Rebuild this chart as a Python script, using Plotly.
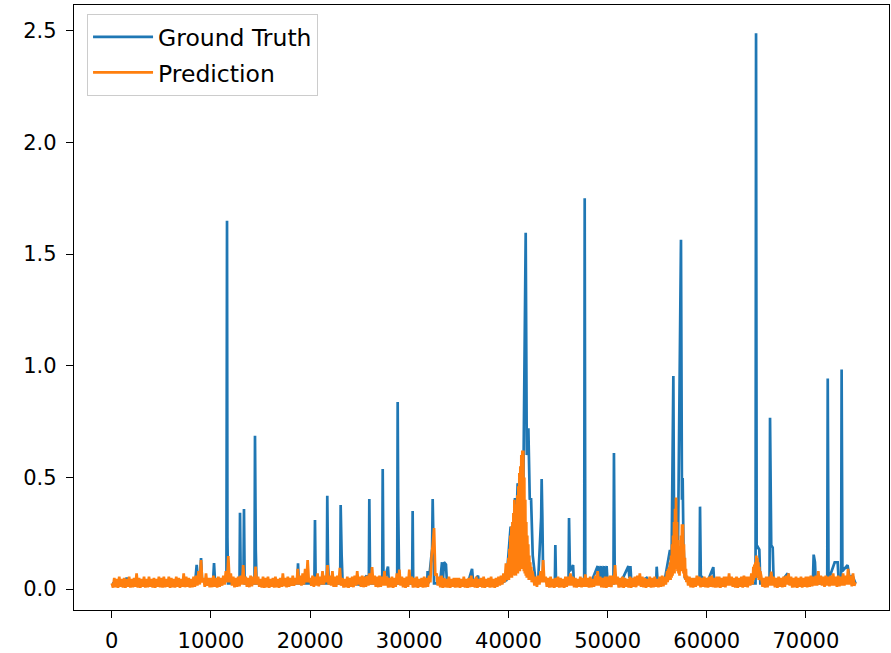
import plotly.graph_objects as go

# ---------------- Ground truth ----------------
gt_x = [0, 600, 1200, 1500, 1800, 2400, 3000, 3600, 4200, 4800, 5400, 6000, 6600, 7200, 7800,
        8400, 8560, 8700, 8900, 9000, 9100, 9600, 10200, 10310, 10420, 11000, 11560, 11620, 11660, 11720,
        12300, 12880, 12930, 13000, 13280, 13330, 13400, 14000, 14390, 14440, 14520, 14600,
        15300, 16000, 16700, 17400, 18100, 18700, 18780, 18860, 19500,
        20430, 20490, 20560, 21100, 21680, 21730, 21800, 21900, 22500, 23030, 23080, 23180, 23280,
        24000, 25000, 25700, 25920, 25970, 26050, 26700, 27270, 27320, 27400, 27850, 27950,
        28780, 28830, 28880, 28980, 29600,
        30290, 30340, 30400, 31000, 31800, 31850, 31950, 32300, 32360, 32420, 32500, 33100,
        33300, 33400, 33500, 33700, 33800, 34500, 35200, 35900, 36330, 36450, 36930, 37050,
        37800, 38500, 39200, 39800,
        40220, 40400, 40660, 40800, 40930, 41200, 41500, 41740, 41850, 42010, 42150, 42280,
        42450, 42700, 43000, 43300, 43350, 43420, 43500, 44000, 44680, 44730, 44800, 45500,
        46060, 46110, 46200, 46520, 46600, 47100, 47640, 47690, 47750, 48300,
        49000, 49100, 49300, 49400, 49600, 49700, 49900, 50000,
        50590, 50640, 50720, 51300, 52100, 52200, 52300, 52400, 53000, 53940, 54300,
        54900, 54950, 55050, 55700, 56290, 56450, 56630, 56700, 56900, 57100, 57400,
        57500, 57570, 57650, 57800, 58300, 59270, 59320, 59400,
        60000, 60660, 60750, 61500, 62300, 63200, 64000, 64920, 64970, 65030, 65300, 65400,
        66000, 66330, 66380, 66500, 66650, 66750, 67400, 68160, 68300, 69000, 69800,
        70700, 70780, 70910, 71000, 71600, 72150, 72200, 72280, 72900, 73050, 73200, 73300,
        73550, 73600, 73680, 74200, 74400, 74700, 75000]
gt_y = [0.025, 0.02, 0.025, 0.05, 0.025, 0.02, 0.025, 0.02, 0.025, 0.02, 0.025, 0.02, 0.025, 0.02, 0.025,
        0.025, 0.108, 0.04, 0.05, 0.139, 0.04, 0.025, 0.025, 0.116, 0.025, 0.025, 0.04, 1.65, 0.23, 0.025,
        0.025, 0.025, 0.342, 0.05, 0.06, 0.358, 0.025, 0.025, 0.025, 0.687, 0.175, 0.025,
        0.025, 0.02, 0.025, 0.02, 0.025, 0.025, 0.115, 0.025, 0.025,
        0.025, 0.309, 0.025, 0.025, 0.025, 0.418, 0.12, 0.025, 0.025, 0.025, 0.376, 0.15, 0.025,
        0.025, 0.02, 0.06, 0.025, 0.403, 0.025, 0.025, 0.025, 0.537, 0.025, 0.10, 0.025,
        0.025, 0.838, 0.37, 0.025, 0.025,
        0.025, 0.349, 0.025, 0.025, 0.025, 0.08, 0.025, 0.18, 0.403, 0.25, 0.025, 0.025,
        0.12, 0.04, 0.12, 0.11, 0.025, 0.025, 0.025, 0.025, 0.09, 0.025, 0.06, 0.025,
        0.025, 0.025, 0.025, 0.04,
        0.28, 0.15, 0.407, 0.30, 0.474, 0.35, 0.45, 1.596, 0.60, 0.72, 0.40, 0.407,
        0.15, 0.05, 0.04, 0.32, 0.493, 0.32, 0.05, 0.025, 0.025, 0.197, 0.025, 0.025,
        0.025, 0.318, 0.08, 0.107, 0.025, 0.025, 0.025, 1.75, 0.025, 0.025,
        0.103, 0.025, 0.103, 0.025, 0.103, 0.025, 0.103, 0.025,
        0.025, 0.609, 0.05, 0.025, 0.103, 0.05, 0.103, 0.025, 0.025, 0.05, 0.025,
        0.025, 0.10, 0.025, 0.025, 0.175, 0.12, 0.954, 0.30, 0.25, 0.20, 1.564,
        0.40, 0.497, 0.20, 0.05, 0.025, 0.025, 0.369, 0.06,
        0.025, 0.098, 0.025, 0.025, 0.025, 0.025, 0.025, 0.025, 2.49, 0.197, 0.176, 0.025,
        0.025, 0.025, 0.767, 0.197, 0.185, 0.025, 0.025, 0.07, 0.025, 0.025, 0.025,
        0.025, 0.154, 0.12, 0.025, 0.025, 0.025, 0.943, 0.04, 0.12, 0.12, 0.12, 0.04,
        0.04, 0.983, 0.08, 0.107, 0.05, 0.06, 0.025]

# ---------------- Prediction ----------------
# base samples every 125 index units, 0 .. 75000 (one row = 5000 units)
pred_base_step = 125
pred_base_y = [
    # 0 - 4875
    0.025, 0.006, 0.05, 0.008, 0.045, 0.005, 0.055, 0.01, 0.045, 0.006,
    0.05, 0.005, 0.045, 0.01, 0.055, 0.006, 0.045, 0.008, 0.05, 0.01,
    0.07, 0.006, 0.05, 0.005, 0.045, 0.01, 0.055, 0.006, 0.045, 0.008,
    0.055, 0.01, 0.045, 0.006, 0.05, 0.005, 0.045, 0.01, 0.055, 0.008,
    # 5000 - 9875
    0.05, 0.006, 0.055, 0.008, 0.045, 0.01, 0.055, 0.005, 0.05, 0.008,
    0.045, 0.006, 0.055, 0.01, 0.05, 0.005, 0.045, 0.01, 0.07, 0.008,
    0.055, 0.01, 0.05, 0.006, 0.045, 0.008, 0.055, 0.01, 0.06, 0.015,
    0.08, 0.02, 0.13, 0.03, 0.05, 0.01, 0.07, 0.015, 0.05, 0.008,
    # 10000 - 14875
    0.05, 0.008, 0.06, 0.01, 0.05, 0.006, 0.055, 0.01, 0.05, 0.015,
    0.06, 0.02, 0.08, 0.03, 0.148, 0.03, 0.07, 0.015, 0.055, 0.008,
    0.05, 0.01, 0.055, 0.012, 0.06, 0.02, 0.107, 0.02, 0.055, 0.01,
    0.05, 0.008, 0.06, 0.012, 0.055, 0.02, 0.10, 0.02, 0.055, 0.01,
    # 15000 - 19875
    0.045, 0.006, 0.055, 0.005, 0.05, 0.008, 0.055, 0.005, 0.045, 0.01,
    0.05, 0.006, 0.055, 0.008, 0.045, 0.005, 0.05, 0.01, 0.07, 0.012,
    0.05, 0.008, 0.055, 0.01, 0.05, 0.015, 0.06, 0.015, 0.05, 0.02,
    0.09, 0.02, 0.06, 0.015, 0.07, 0.02, 0.09, 0.03, 0.13, 0.03,
    # 20000 - 24875
    0.05, 0.015, 0.06, 0.01, 0.055, 0.015, 0.07, 0.012, 0.055, 0.02,
    0.08, 0.02, 0.06, 0.03, 0.107, 0.02, 0.06, 0.015, 0.08, 0.01,
    0.055, 0.01, 0.06, 0.02, 0.095, 0.015, 0.05, 0.006, 0.045, 0.008,
    0.055, 0.005, 0.05, 0.01, 0.055, 0.008, 0.06, 0.015, 0.08, 0.02,
    # 25000 - 29875
    0.055, 0.01, 0.06, 0.008, 0.055, 0.01, 0.06, 0.015, 0.07, 0.02,
    0.098, 0.02, 0.06, 0.01, 0.055, 0.008, 0.06, 0.01, 0.055, 0.015,
    0.08, 0.015, 0.055, 0.006, 0.05, 0.008, 0.055, 0.005, 0.05, 0.01,
    0.07, 0.02, 0.087, 0.015, 0.055, 0.008, 0.05, 0.005, 0.055, 0.01,
    # 30000 - 34875
    0.087, 0.02, 0.055, 0.006, 0.05, 0.008, 0.055, 0.005, 0.045, 0.01,
    0.05, 0.006, 0.055, 0.008, 0.05, 0.01, 0.06, 0.03, 0.15, 0.20,
    0.273, 0.06, 0.07, 0.015, 0.055, 0.008, 0.06, 0.005, 0.05, 0.008,
    0.045, 0.006, 0.055, 0.005, 0.045, 0.01, 0.05, 0.006, 0.05, 0.008,
    # 35000 - 39875
    0.05, 0.005, 0.045, 0.01, 0.055, 0.006, 0.045, 0.005, 0.05, 0.008,
    0.06, 0.01, 0.045, 0.006, 0.055, 0.005, 0.045, 0.01, 0.05, 0.006,
    0.055, 0.005, 0.045, 0.01, 0.05, 0.006, 0.055, 0.008, 0.045, 0.005,
    0.05, 0.01, 0.055, 0.015, 0.06, 0.02, 0.07, 0.03, 0.115, 0.04,
    # 40000 - 44875 (first half covered by the dense burst below)
    0.14, 0.05, 0.28, 0.05, 0.40, 0.06, 0.35, 0.07, 0.46, 0.08,
    0.55, 0.09, 0.62, 0.08, 0.40, 0.06, 0.24, 0.05, 0.15, 0.04,
    0.06, 0.015, 0.055, 0.01, 0.06, 0.02, 0.08, 0.03, 0.13, 0.03,
    0.055, 0.01, 0.05, 0.006, 0.055, 0.008, 0.045, 0.005, 0.05, 0.01,
    # 45000 - 49875
    0.055, 0.006, 0.05, 0.008, 0.045, 0.005, 0.055, 0.01, 0.055, 0.015,
    0.07, 0.015, 0.055, 0.008, 0.05, 0.006, 0.045, 0.01, 0.055, 0.008,
    0.05, 0.01, 0.066, 0.01, 0.05, 0.006, 0.055, 0.008, 0.045, 0.01,
    0.06, 0.015, 0.08, 0.015, 0.055, 0.008, 0.05, 0.006, 0.055, 0.005,
    # 50000 - 54875
    0.055, 0.01, 0.06, 0.008, 0.06, 0.02, 0.107, 0.02, 0.055, 0.006,
    0.05, 0.008, 0.055, 0.005, 0.05, 0.01, 0.045, 0.006, 0.055, 0.005,
    0.05, 0.01, 0.055, 0.008, 0.06, 0.015, 0.07, 0.01, 0.055, 0.008,
    0.05, 0.005, 0.045, 0.01, 0.055, 0.006, 0.05, 0.008, 0.055, 0.01,
    # 55000 - 59875 (56000-57875 covered by the dense burst below)
    0.045, 0.008, 0.055, 0.01, 0.06, 0.012, 0.055, 0.02, 0.08, 0.04,
    0.12, 0.05, 0.20, 0.06, 0.30, 0.08, 0.41, 0.09, 0.22, 0.07,
    0.29, 0.08, 0.14, 0.04, 0.06, 0.015, 0.055, 0.008, 0.05, 0.006,
    0.05, 0.01, 0.06, 0.015, 0.055, 0.008, 0.05, 0.01, 0.055, 0.008,
    # 60000 - 64875
    0.05, 0.006, 0.055, 0.01, 0.06, 0.008, 0.05, 0.006, 0.055, 0.008,
    0.055, 0.005, 0.05, 0.01, 0.055, 0.008, 0.055, 0.015, 0.07, 0.015,
    0.055, 0.01, 0.05, 0.006, 0.055, 0.005, 0.05, 0.01, 0.055, 0.006,
    0.06, 0.01, 0.055, 0.008, 0.055, 0.015, 0.07, 0.02, 0.10, 0.04,
    # 65000 - 69875
    0.15, 0.06, 0.12, 0.05, 0.055, 0.01, 0.05, 0.006, 0.055, 0.008,
    0.055, 0.015, 0.078, 0.015, 0.055, 0.008, 0.05, 0.005, 0.055, 0.01,
    0.05, 0.008, 0.055, 0.01, 0.06, 0.02, 0.07, 0.015, 0.055, 0.006,
    0.05, 0.008, 0.055, 0.005, 0.05, 0.01, 0.055, 0.006, 0.05, 0.01,
    # 70000 - 74875
    0.055, 0.008, 0.055, 0.01, 0.06, 0.012, 0.055, 0.015, 0.06, 0.015,
    0.08, 0.02, 0.06, 0.015, 0.055, 0.01, 0.06, 0.015, 0.055, 0.012,
    0.06, 0.015, 0.07, 0.015, 0.055, 0.01, 0.06, 0.012, 0.055, 0.015,
    0.07, 0.015, 0.06, 0.02, 0.09, 0.02, 0.06, 0.012, 0.07, 0.015,
    # 75000
    0.03]

# dense bursts (every 50 index units)
hump_step = 50
hump1_start = 40000
hump1_y = [0.14, 0.04, 0.18, 0.05, 0.24, 0.06, 0.28, 0.05, 0.30, 0.07, 0.34, 0.06, 0.40, 0.08, 0.38, 0.06,
           0.35, 0.08, 0.42, 0.07, 0.46, 0.09, 0.52, 0.08, 0.55, 0.10, 0.60, 0.09, 0.62, 0.11, 0.62, 0.08,
           0.50, 0.07, 0.40, 0.06, 0.30, 0.05, 0.24, 0.06, 0.20, 0.04, 0.15, 0.05, 0.12, 0.04, 0.10, 0.03, 0.08]
hump2_start = 56000
hump2_y = [0.08, 0.03, 0.09, 0.04, 0.10, 0.05, 0.12, 0.04, 0.15, 0.05, 0.20, 0.06, 0.24, 0.08, 0.30, 0.07,
           0.36, 0.10, 0.41, 0.09, 0.30, 0.08, 0.22, 0.07, 0.18, 0.06, 0.17, 0.08, 0.24, 0.09, 0.29, 0.08,
           0.29, 0.07, 0.20, 0.05, 0.14, 0.04, 0.09, 0.03]
hump3_start = 64700
hump3_y = [0.10, 0.04, 0.11, 0.05, 0.12, 0.06, 0.15, 0.06, 0.14, 0.05, 0.12, 0.04, 0.10, 0.04, 0.08]

x_ticks = [0, 10000, 20000, 30000, 40000, 50000, 60000, 70000]
y_ticks = [0.0, 0.5, 1.0, 1.5, 2.0, 2.5]

# ---------------- build prediction series ----------------
humps = [(hump1_start, hump1_y), (hump2_start, hump2_y), (hump3_start, hump3_y)]
spans = [(s, s + hump_step * (len(v) - 1)) for s, v in humps]
pts = []
for i, v in enumerate(pred_base_y):
    x = i * pred_base_step
    if any(a <= x <= b for a, b in spans):
        continue
    pts.append((x, v))
for s, vals in humps:
    for j, v in enumerate(vals):
        pts.append((s + j * hump_step, v))
pts.sort()
pred_x = [p[0] for p in pts]
pred_y = [p[1] for p in pts]

FONT = "DejaVu Sans"
fig = go.Figure()
fig.add_trace(go.Scatter(x=gt_x, y=gt_y, mode="lines", name="Ground Truth",
                         legendgroup="a",
                         line=dict(color="#1f77b4", width=2.7, simplify=False)))
fig.add_trace(go.Scatter(x=pred_x, y=pred_y, mode="lines", name="Prediction",
                         legendgroup="b",
                         line=dict(color="#ff7f0e", width=2.7, simplify=False)))

axis_common = dict(showgrid=False, zeroline=False, showline=True, mirror=True,
                   linecolor="#000000", linewidth=1.4, ticks="outside", ticklen=7,
                   tickwidth=1.3, tickcolor="#000000", automargin=False,
                   ticklabelstandoff=5,
                   tickfont=dict(family=FONT, size=21, color="#000000"))
fig.update_xaxes(range=[-3812, 78378], tickvals=x_ticks,
                 ticktext=[str(t) for t in x_ticks], **axis_common)
fig.update_yaxes(range=[-0.094, 2.616], tickvals=y_ticks,
                 ticktext=[f"{t:.1f}" for t in y_ticks], **axis_common)

fig.update_layout(
    width=891, height=653, autosize=False,
    margin=dict(l=74, r=2, t=5, b=43),
    plot_bgcolor="white", paper_bgcolor="white",
    font=dict(family=FONT, size=21, color="#000000"),
    legend=dict(x=0.016, y=0.985, xanchor="left", yanchor="top",
                bgcolor="rgba(255,255,255,0.8)", bordercolor="#cccccc", borderwidth=1,
                font=dict(family=FONT, size=23.5, color="#000000"),
                tracegroupgap=2, itemwidth=60),
    showlegend=True,
)

fig.write_html("out.html", config={"responsive": False, "displayModeBar": False},
               post_script="document.body.style.margin='0';document.body.style.overflow='hidden';")
